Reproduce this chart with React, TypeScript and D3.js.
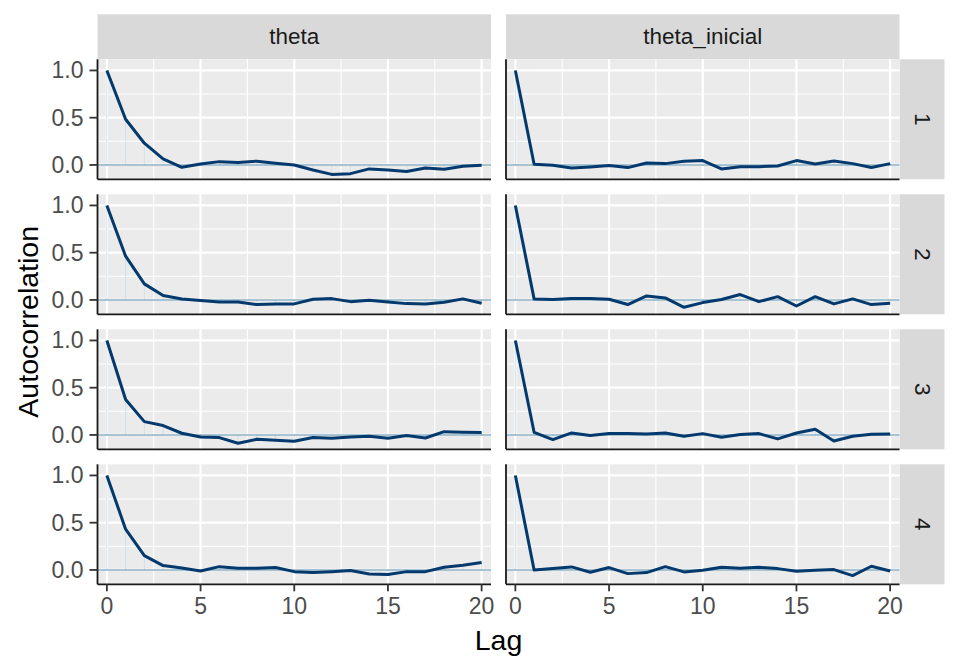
import React from "react";
import * as d3 from "d3";

const params = ["theta", "theta_inicial"];
const chains = ["1", "2", "3", "4"];
const lags = d3.range(0, 21);

// ACF values per chain (rows) for each parameter
const thetaAcf = [
  [1.0, 0.484, 0.23, 0.064, -0.025, 0.01, 0.035, 0.025, 0.04, 0.018, 0.0, -0.053, -0.1, -0.092, -0.042, -0.053, -0.07, -0.032, -0.046, -0.014, -0.004],
  [1.0, 0.463, 0.17, 0.046, 0.011, -0.007, -0.021, -0.021, -0.049, -0.042, -0.042, 0.007, 0.014, -0.018, -0.004, -0.021, -0.039, -0.042, -0.025, 0.011, -0.035],
  [1.0, 0.375, 0.141, 0.099, 0.018, -0.021, -0.028, -0.088, -0.046, -0.057, -0.067, -0.028, -0.035, -0.021, -0.014, -0.035, -0.007, -0.032, 0.035, 0.028, 0.025],
  [1.0, 0.431, 0.152, 0.046, 0.021, -0.011, 0.035, 0.018, 0.018, 0.025, -0.018, -0.028, -0.018, -0.007, -0.042, -0.049, -0.018, -0.018, 0.028, 0.049, 0.078],
];
const thetaInicialAcf = [
  [1.0, 0.007, -0.004, -0.032, -0.021, -0.007, -0.028, 0.021, 0.014, 0.039, 0.046, -0.042, -0.018, -0.018, -0.011, 0.046, 0.011, 0.042, 0.014, -0.028, 0.014],
  [1.0, 0.011, 0.004, 0.014, 0.014, 0.007, -0.049, 0.042, 0.021, -0.078, -0.028, 0.004, 0.057, -0.018, 0.035, -0.064, 0.035, -0.042, 0.011, -0.049, -0.035],
  [1.0, 0.028, -0.049, 0.021, -0.007, 0.014, 0.014, 0.011, 0.021, -0.014, 0.014, -0.025, 0.004, 0.014, -0.042, 0.021, 0.06, -0.064, -0.014, 0.007, 0.011],
  [1.0, 0.0, 0.014, 0.032, -0.025, 0.025, -0.039, -0.028, 0.035, -0.021, -0.004, 0.028, 0.018, 0.028, 0.014, -0.014, -0.004, 0.004, -0.06, 0.039, -0.011],
];
const acfByParam = [thetaAcf, thetaInicialAcf];

const xTicks = [0, 5, 10, 15, 20];
const xMinor = [2.5, 7.5, 12.5, 17.5];
const yTicks = [0, 0.5, 1.0];
const yMinor = [0.25, 0.75];

const colLeft = [97.5, 506];
const panelW = 393.5;
const rowTop0 = 59.3;
const rowPitch = 135;
const panelH = 120;
const stripSize = 45;

const FONT = "'Liberation Sans', Arial, Helvetica, sans-serif";

export default function App() {
  const x = d3.scaleLinear().domain([-0.5, 20.5]).range([0, panelW]);
  const y = d3.scaleLinear().domain([-0.152, 1.118]).range([panelH, 0]);
  const line = d3
    .line<number>()
    .x((_, i) => x(lags[i]))
    .y((d) => y(d));

  return (
    <svg
      width={960}
      height={672}
      style={{ position: "absolute", left: 0, top: 0, background: "#fff" }}
      fontFamily={FONT}
    >
      {/* top strips */}
      {params.map((p, c) => (
        <g key={"ts" + p} transform={`translate(${colLeft[c]},${rowTop0 - stripSize})`}>
          <rect width={panelW} height={stripSize} fill="#D9D9D9" />
          <text
            x={panelW / 2}
            y={stripSize / 2}
            textAnchor="middle"
            dominantBaseline="central"
            fontSize={22.5}
            fill="#1A1A1A"
          >
            {p}
          </text>
        </g>
      ))}
      {/* right strips */}
      {chains.map((ch, r) => {
        const top = rowTop0 + r * rowPitch;
        const left = colLeft[1] + panelW;
        return (
          <g key={"rs" + ch} transform={`translate(${left},${top})`}>
            <rect width={stripSize} height={panelH} fill="#D9D9D9" />
            <text
              transform={`translate(${stripSize / 2},${panelH / 2}) rotate(90)`}
              textAnchor="middle"
              dominantBaseline="central"
              fontSize={22.5}
              fill="#1A1A1A"
            >
              {ch}
            </text>
          </g>
        );
      })}
      {/* panels */}
      {params.map((p, c) =>
        chains.map((ch, r) => {
          const vals = acfByParam[c][r];
          const top = rowTop0 + r * rowPitch;
          return (
            <g key={p + ch} transform={`translate(${colLeft[c]},${top})`}>
              <rect width={panelW} height={panelH} fill="#EBEBEB" />
              {yMinor.map((t) => (
                <line key={"ym" + t} x1={0} x2={panelW} y1={y(t)} y2={y(t)} stroke="#fff" strokeWidth={1.1} />
              ))}
              {xMinor.map((t) => (
                <line key={"xm" + t} x1={x(t)} x2={x(t)} y1={0} y2={panelH} stroke="#fff" strokeWidth={1.1} />
              ))}
              {yTicks.map((t) => (
                <line key={"yM" + t} x1={0} x2={panelW} y1={y(t)} y2={y(t)} stroke="#fff" strokeWidth={2.2} />
              ))}
              {xTicks.map((t) => (
                <line key={"xM" + t} x1={x(t)} x2={x(t)} y1={0} y2={panelH} stroke="#fff" strokeWidth={2.2} />
              ))}
              {/* bars */}
              {vals.map((v, i) => (
                <line
                  key={"b" + i}
                  x1={x(lags[i])}
                  x2={x(lags[i])}
                  y1={y(0)}
                  y2={y(v)}
                  stroke="#d1e1ec"
                  strokeWidth={1}
                />
              ))}
              {/* zero line */}
              <line x1={0} x2={panelW} y1={y(0)} y2={y(0)} stroke="#6497b1" strokeOpacity={0.75} strokeWidth={1.6} />
              <path d={line(vals) || ""} fill="none" stroke="#03396c" strokeWidth={3} strokeLinejoin="round" />
              {/* axis lines */}
              <line x1={0} x2={0} y1={0} y2={panelH} stroke="#1a1a1a" strokeWidth={1.8} />
              <line x1={0} x2={panelW} y1={panelH} y2={panelH} stroke="#1a1a1a" strokeWidth={1.8} />
              {/* y ticks for left column */}
              {c === 0 &&
                yTicks.map((t) => (
                  <g key={"yt" + t}>
                    <line x1={-8} x2={0} y1={y(t)} y2={y(t)} stroke="#333" strokeWidth={1.8} />
                    <text
                      x={-14}
                      y={y(t)}
                      textAnchor="end"
                      dominantBaseline="central"
                      fontSize={23}
                      fill="#4D4D4D"
                    >
                      {t.toFixed(1)}
                    </text>
                  </g>
                ))}
              {/* x ticks for bottom row */}
              {r === chains.length - 1 &&
                xTicks.map((t) => (
                  <g key={"xt" + t}>
                    <line x1={x(t)} x2={x(t)} y1={panelH} y2={panelH + 7} stroke="#333" strokeWidth={1.8} />
                    <text
                      x={x(t)}
                      y={panelH + 13}
                      textAnchor="middle"
                      dominantBaseline="hanging"
                      fontSize={23}
                      fill="#4D4D4D"
                    >
                      {t}
                    </text>
                  </g>
                ))}
            </g>
          );
        })
      )}
      {/* axis titles */}
      <text
        x={(colLeft[0] + colLeft[1] + panelW) / 2}
        y={640}
        textAnchor="middle"
        dominantBaseline="central"
        fontSize={28.5}
        fill="#000"
      >
        Lag
      </text>
      <text
        transform={`translate(28,${rowTop0 + (3 * rowPitch + panelH) / 2}) rotate(-90)`}
        textAnchor="middle"
        dominantBaseline="central"
        fontSize={28.5}
        fill="#000"
      >
        Autocorrelation
      </text>
    </svg>
  );
}
